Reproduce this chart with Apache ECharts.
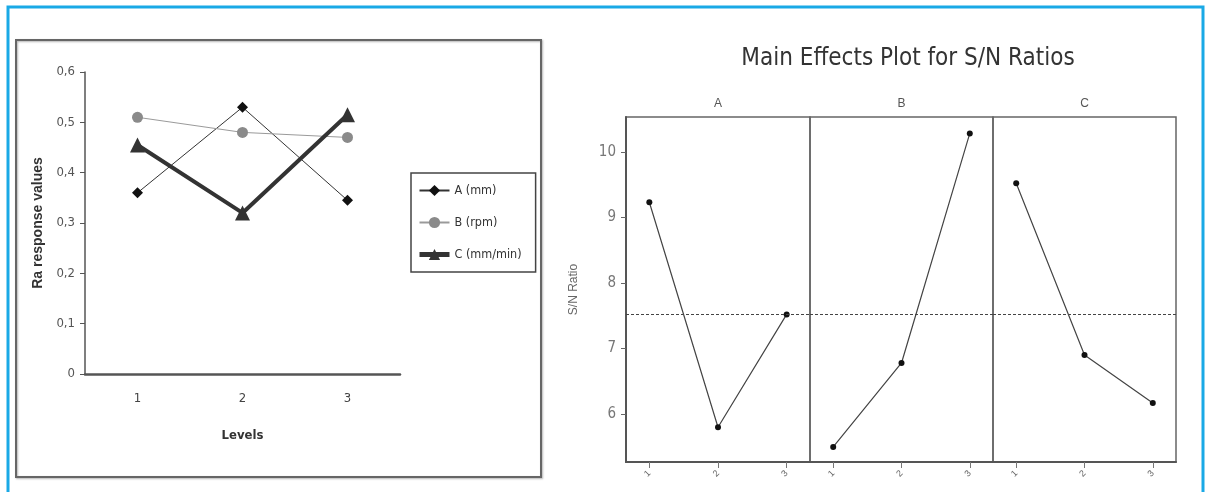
<!DOCTYPE html>
<html>
<head>
<meta charset="utf-8">
<script src="https://cdn.jsdelivr.net/npm/echarts@6/dist/echarts.min.js"></script>
<style>
  html, body { margin: 0; padding: 0; background: #fff; }
  #chart { width: 1206px; height: 492px; }
</style>
</head>
<body>
<div id="chart"></div>
<script>
// left chart: Ra response values per level
const levels = ["1", "2", "3"];
const raA = [0.36, 0.53, 0.345];
const raB = [0.51, 0.48, 0.47];
const raC = [0.455, 0.32, 0.515];

// right chart: S/N ratios per factor level
const snLevels = [1, 2, 3];
const snA = [9.23, 5.8, 7.52];
const snB = [5.5, 6.78, 10.28];
const snC = [9.52, 6.9, 6.17];
const snMean = 7.52;
const snTicks = [6, 7, 8, 9, 10];
const panelNames = ["A", "B", "C"];

const narrow = "'Liberation Sans Narrow', 'Arial Narrow', 'DejaVu Sans Condensed', Arial, sans-serif";
const sans = "'Liberation Sans', Arial, sans-serif";

function toPairs(values) {
  return values.map(function (v, i) { return [snLevels[i], v]; });
}

const panels = [
  { left: 626, width: 184, data: snA },
  { left: 810, width: 183, data: snB },
  { left: 993, width: 183, data: snC }
];

var chart = echarts.init(document.getElementById("chart"));

var grids = [{ left: 85, top: 72, width: 315, height: 302 }];
var xAxes = [{
  type: "category",
  gridIndex: 0,
  data: levels,
  boundaryGap: true,
  axisLine: { lineStyle: { color: "#555", width: 2.5 } },
  axisTick: { lineStyle: { color: "#555", width: 1.5 }, length: 5 },
  axisLabel: { color: "#444", fontSize: 13, fontFamily: narrow, margin: 18 },
  name: "Levels",
  nameLocation: "middle",
  nameGap: 55,
  nameTextStyle: { color: "#333", fontSize: 13, fontWeight: "bold", fontFamily: narrow }
}];
var yAxes = [{
  type: "value",
  gridIndex: 0,
  min: 0,
  max: 0.6,
  interval: 0.1,
  splitLine: { show: false },
  axisLine: { show: true, lineStyle: { color: "#555", width: 1.5 } },
  axisTick: { show: true, length: 5, lineStyle: { color: "#555" } },
  axisLabel: {
    color: "#555", fontSize: 13, fontFamily: narrow, margin: 10,
    formatter: function (v) { return v === 0 ? "0" : v.toFixed(1).replace(".", ","); }
  },
  name: "Ra response values",
  nameLocation: "middle",
  nameGap: 40,
  nameTextStyle: { color: "#333", fontSize: 14, fontWeight: "bold", fontFamily: sans }
}];

var series = [
  {
    name: "A (mm)", type: "line", xAxisIndex: 0, yAxisIndex: 0, data: raA,
    symbol: "diamond", symbolSize: 11,
    lineStyle: { color: "#333", width: 1 }, itemStyle: { color: "#111" }
  },
  {
    name: "B (rpm)", type: "line", xAxisIndex: 0, yAxisIndex: 0, data: raB,
    symbol: "circle", symbolSize: 11,
    lineStyle: { color: "#9a9a9a", width: 1 }, itemStyle: { color: "#8a8a8a" }
  },
  {
    name: "C (mm/min)", type: "line", xAxisIndex: 0, yAxisIndex: 0, data: raC,
    symbol: "triangle", symbolSize: 15,
    lineStyle: { color: "#333", width: 4 }, itemStyle: { color: "#333" }
  }
];

panels.forEach(function (p, i) {
  var g = i + 1;
  grids.push({
    left: p.left, top: 117, width: p.width, height: 345,
    show: true, borderColor: "#666", borderWidth: 1.5, backgroundColor: "transparent"
  });
  xAxes.push({
    type: "value",
    gridIndex: g,
    min: 0.66,
    max: 3.34,
    splitLine: { show: false },
    axisLine: { show: true, onZero: false, lineStyle: { color: "#555", width: 2 } },
    axisTick: { show: true, length: 6, customValues: snLevels, lineStyle: { color: "#777" } },
    axisLabel: { show: true, customValues: snLevels, color: "#666", fontSize: 9, rotate: 45, margin: 10 }
  });
  // top axis only carries the panel name
  xAxes.push({
    type: "value",
    gridIndex: g,
    position: "top",
    min: 0.66,
    max: 3.34,
    axisLine: { show: false },
    axisTick: { show: false },
    axisLabel: { show: false },
    splitLine: { show: false },
    name: panelNames[i],
    nameLocation: "middle",
    nameGap: 7,
    nameTextStyle: { color: "#555", fontSize: 12, fontFamily: sans }
  });
  yAxes.push({
    type: "value",
    gridIndex: g,
    min: 5.27,
    max: 10.53,
    splitLine: { show: false },
    axisLine: { show: i === 0, lineStyle: { color: "#555", width: 2 } },
    axisTick: { show: i === 0, length: 5, customValues: snTicks, lineStyle: { color: "#666" } },
    axisLabel: { show: i === 0, customValues: snTicks, color: "#777", fontSize: 15, fontFamily: narrow, margin: 10 },
    name: i === 0 ? "S/N Ratio" : "",
    nameLocation: "middle",
    nameGap: 46,
    nameTextStyle: { color: "#666", fontSize: 12, fontFamily: sans }
  });
  series.push({
    type: "line",
    xAxisIndex: xAxes.length - 2,
    yAxisIndex: yAxes.length - 1,
    data: toPairs(p.data),
    symbol: "circle",
    symbolSize: 6,
    lineStyle: { color: "#444", width: 1.2 },
    itemStyle: { color: "#111" },
    markLine: {
      silent: true,
      symbol: "none",
      label: { show: false },
      lineStyle: { color: "#444", type: [3, 2], width: 1.2 },
      data: [{ yAxis: snMean }]
    }
  });
});

var option = {
  animation: false,
  backgroundColor: "#fff",
  title: {
    text: "Main Effects Plot for S/N Ratios",
    left: 903,
    top: 42,
    textAlign: "center",
    textStyle: { color: "#333", fontSize: 24, fontWeight: "normal", fontFamily: narrow }
  },
  legend: {
    data: [
      { name: "A (mm)" },
      { name: "B (rpm)" },
      { name: "C (mm/min)", lineStyle: { width: 5, color: "#333" } }
    ],
    orient: "vertical",
    left: 411,
    top: 173,
    padding: [11, 14, 11, 6],
    itemWidth: 30,
    itemHeight: 14,
    itemGap: 19,
    borderColor: "#444",
    borderWidth: 1.5,
    textStyle: { color: "#333", fontSize: 12.5, fontFamily: narrow }
  },
  graphic: [
    {
      type: "rect",
      shape: { x: 8, y: 7, width: 1195, height: 520 },
      style: { fill: "none", stroke: "#1aa9e6", lineWidth: 3 },
      z: -10
    },
    {
      type: "rect",
      shape: { x: 16, y: 40, width: 525, height: 437 },
      style: { fill: "none", stroke: "#666", lineWidth: 2, shadowColor: "rgba(0,0,0,0.3)", shadowBlur: 2, shadowOffsetX: 1, shadowOffsetY: 1 },
      z: -10
    }
  ],
  grid: grids,
  xAxis: xAxes,
  yAxis: yAxes,
  series: series
};

chart.setOption(option);
</script>
</body>
</html>
